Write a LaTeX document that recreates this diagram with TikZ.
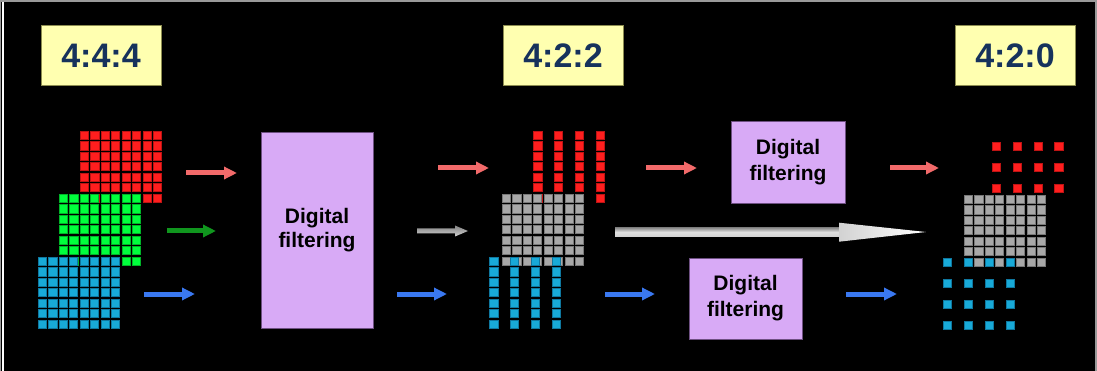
\documentclass[tikz,border=0pt]{standalone}
\usepackage{fontspec}
\setmainfont{Liberation Sans}
\usetikzlibrary{arrows.meta}

\definecolor{cellred}{RGB}{255,30,30}
\definecolor{cellredline}{RGB}{190,20,20}
\definecolor{cellgreen}{RGB}{0,255,60}
\definecolor{cellgreenline}{RGB}{0,180,40}
\definecolor{cellblue}{RGB}{24,170,216}
\definecolor{cellblueline}{RGB}{15,120,160}
\definecolor{cellgray}{RGB}{168,168,168}
\definecolor{cellgrayline}{RGB}{120,120,120}
\definecolor{arrred}{RGB}{242,106,106}
\definecolor{arrgreen}{RGB}{16,150,30}
\definecolor{arrblue}{RGB}{58,120,240}
\definecolor{filterfill}{RGB}{216,170,246}
\definecolor{filterline}{RGB}{110,80,130}
\definecolor{labelfill}{RGB}{255,255,176}
\definecolor{labelline}{RGB}{140,140,80}
\definecolor{labeltext}{RGB}{22,50,92}
\definecolor{shaftdark}{RGB}{130,130,130}
\definecolor{shaftlight}{RGB}{210,210,210}

% one grid of pixels: style, origin x, origin y, kept columns, kept rows
\newcommand\pixgrid[5]{%
  \foreach \c in {#4}{\foreach \r in {#5}{%
    \path[#1] ({#2+\c*10.45},{#3+\r*10.45}) rectangle ++(8.3,8.3);}}}

\begin{document}
\begin{tikzpicture}[x=1pt,y=-1pt,
  redcell/.style={fill=cellred,draw=cellredline,line width=0.35pt},
  greencell/.style={fill=cellgreen,draw=cellgreenline,line width=0.35pt},
  bluecell/.style={fill=cellblue,draw=cellblueline,line width=0.35pt},
  graycell/.style={fill=cellgray,draw=cellgrayline,line width=0.35pt},
  flow/.style={line width=5pt,-{Triangle[length=13pt,width=12pt]}},
  filterbox/.style={fill=filterfill,draw=filterline,line width=0.8pt,
    align=center,font=\bfseries\fontsize{21}{24}\selectfont,text=black,
    inner sep=0pt},
  labelbox/.style={fill=labelfill,draw=labelline,line width=1pt,
    minimum width=120pt,minimum height=60pt,inner sep=0pt,
    font=\bfseries\fontsize{34}{40}\selectfont,text=labeltext},
  ]
\fill[black] (0,0) rectangle (1097,371);
\useasboundingbox (0,0) rectangle (1097,371);

% frame
\draw[gray!80,line width=1.2pt] (0,1) -- (1097,1);
\draw[gray!80,line width=1pt] (0.5,0) -- (0.5,371);
\draw[white,line width=1.2pt] (3,2.5) -- (3,371);
\draw[gray!80,line width=1.5pt] (1096,0) -- (1096,371);

% sampling labels
\node[labelbox] (l444) at (101,56) {4:4:4};
\node[labelbox] (l422) at (563,56) {4:2:2};
\node[labelbox] (l420) at (1015,56) {4:2:0};

% 4:4:4 planes
\pixgrid{redcell}{80}{131}{0,...,7}{0,...,6}
\pixgrid{greencell}{59}{194}{0,...,7}{0,...,6}
\pixgrid{bluecell}{38}{257}{0,...,7}{0,...,6}

% 4:2:2 planes
\pixgrid{redcell}{523}{131}{1,3,5,7}{0,...,6}
\pixgrid{graycell}{502}{194}{0,...,7}{0,...,6}
\pixgrid{bluecell}{479}{257}{1,3,5,7}{0,...,6}

% 4:2:0 planes
\pixgrid{redcell}{981.5}{131.5}{1,3,5,7}{1,3,5}
\pixgrid{graycell}{964}{195}{0,...,7}{0,...,6}
\pixgrid{bluecell}{943}{258}{0,2,4,6}{0,2,4,6}

% filters
\node[filterbox,minimum width=112pt,minimum height=196pt] (fbig) at (317,230) {Digital\\filtering};
\node[filterbox,minimum width=114pt,minimum height=82pt,
  font=\bfseries\fontsize{21}{26}\selectfont] (ftop) at (788,162) {Digital\\filtering};
\node[filterbox,minimum width=113pt,minimum height=81pt,
  font=\bfseries\fontsize{21}{26}\selectfont] (fbot) at (745.5,298.5) {Digital\\filtering};

% arrow end points
\coordinate (ar1) at (186,173); \coordinate (br1) at (237,173);
\coordinate (ag1) at (167,231); \coordinate (bg1) at (216,231);
\coordinate (ab1) at (144,294); \coordinate (bb1) at (195,294);
\coordinate (ar2) at (438,168); \coordinate (br2) at (489,168);
\coordinate (ab2) at (397,294); \coordinate (bb2) at (447,294);
\coordinate (ar3) at (646,168); \coordinate (br3) at (697,168);
\coordinate (ab3) at (605,294); \coordinate (bb3) at (655,294);
\coordinate (ar4) at (890,168); \coordinate (br4) at (939,168);
\coordinate (ab4) at (846,294); \coordinate (bb4) at (897,294);

\foreach \s/\e in {ar1/br1,ar2/br2,ar3/br3,ar4/br4}
  \draw[flow,arrred] (\s) -- (\e);
\draw[flow,arrgreen] (ag1) -- (bg1);
\foreach \s/\e in {ab1/bb1,ab2/bb2,ab3/bb3,ab4/bb4}
  \draw[flow,arrblue] (\s) -- (\e);

% small grey arrow into the 4:2:2 luma plane
\shade[top color=shaftdark,bottom color=shaftlight]
  (417,228.5) -- (455,228.5) -- (455,225.5) -- (468,231) -- (455,236.5)
  -- (455,233.5) -- (417,233.5) -- cycle;

% luma passes straight through
\shade[top color=shaftdark,bottom color=shaftlight,middle color=shaftlight!70!white]
  (615,227.3) rectangle (839.5,236.7);
\shade[left color=shaftlight,right color=white]
  (839,222.7) -- (926,232) -- (839,241.7) -- cycle;
\end{tikzpicture}
\end{document}
